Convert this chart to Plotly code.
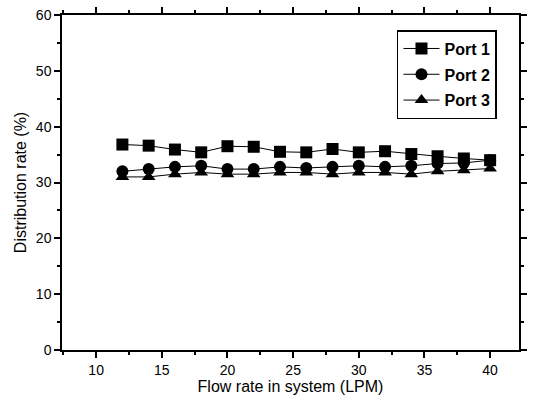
import plotly.graph_objects as go

flow = [12, 14, 16, 18, 20, 22, 24, 26, 28, 30, 32, 34, 36, 38, 40]
port1 = [36.8, 36.6, 35.9, 35.4, 36.5, 36.4, 35.5, 35.4, 36.0, 35.4, 35.6, 35.1, 34.7, 34.3, 34.0]
port2 = [32.0, 32.4, 32.8, 33.0, 32.4, 32.4, 32.8, 32.6, 32.8, 33.0, 32.8, 33.0, 33.4, 33.5, 34.0]
port3 = [31.0, 31.0, 31.5, 31.8, 31.5, 31.5, 31.8, 31.8, 31.5, 31.8, 31.8, 31.5, 32.0, 32.2, 32.5]
names = ["Port 1", "Port 2", "Port 3"]
symbols = ["square", "circle", "triangle-up"]

fig = go.Figure()
for name, ys, sym in zip(names, [port1, port2, port3], symbols):
    fig.add_trace(go.Scatter(
        x=flow, y=ys, name=name, legendgroup=name, mode="lines+markers",
        line=dict(color="black", width=1),
        marker=dict(symbol=sym, size=12, color="black"),
    ))

axis_common = dict(
    showline=True, linecolor="black", linewidth=1.5, mirror="allticks",
    ticks="outside", ticklen=6, tickwidth=1.5, tickcolor="black",
    showgrid=False, zeroline=False,
    tickfont=dict(family="Liberation Sans, Arial", size=14, color="black"),
)

fig.update_xaxes(range=[7.4, 42.2], tickvals=[10, 15, 20, 25, 30, 35, 40],
                 minor=dict(dtick=2.5, tick0=0, ticks="outside", ticklen=3, tickcolor="black"),
                 title=dict(text="Flow rate in system (LPM)", standoff=3,
                            font=dict(family="Liberation Sans, Arial", size=16, color="black")),
                 **axis_common)
fig.update_yaxes(range=[0, 60], tickvals=[0, 10, 20, 30, 40, 50, 60],
                 minor=dict(dtick=5, tick0=0, ticks="outside", ticklen=3, tickcolor="black"),
                 title=dict(text="Distribution rate (%)", standoff=5,
                            font=dict(family="Liberation Sans, Arial", size=16, color="black")),
                 **axis_common)

fig.update_layout(
    width=534, height=399,
    margin=dict(l=62, r=7, t=15, b=48),
    paper_bgcolor="white", plot_bgcolor="white",
    legend=dict(x=0.733, y=0.955, xanchor="left", yanchor="top",
                bordercolor="black", borderwidth=1.5, bgcolor="white",
                font=dict(family="Liberation Sans, Arial", size=16, color="black", weight="bold"),
                itemwidth=36, traceorder="grouped", tracegroupgap=2),
    showlegend=True,
)

fig.write_html("out.html")
